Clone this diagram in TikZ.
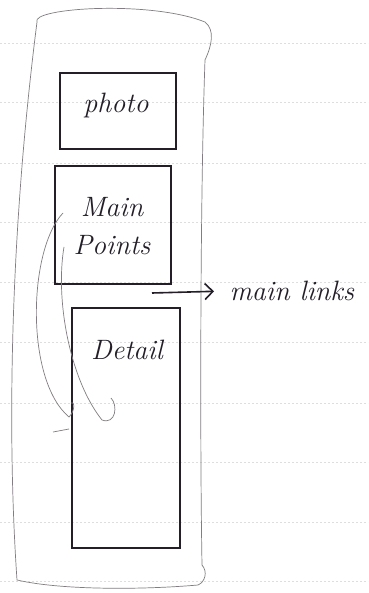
\documentclass[tikz,border=0pt]{standalone}
\usepackage{fontspec}
\usetikzlibrary{arrows.meta}
\definecolor{ink}{RGB}{35,30,40}
\definecolor{pencil}{RGB}{130,125,130}
\definecolor{rule}{RGB}{222,222,222}
\tikzset{
  inkbox/.style={draw=ink, line width=1.6pt, inner sep=0pt},
  hand/.style={font=\fontsize{28}{32}\selectfont\itshape, text=ink},
  pencilline/.style={draw=pencil, line width=0.7pt},
  ruleline/.style={draw=rule, line width=0.5pt, dash pattern=on 2pt off 2pt}
}
\begin{document}
\begin{tikzpicture}[x=1pt,y=-1pt]
\useasboundingbox (0,0) rectangle (368,593);
\fill[white] (0,0) rectangle (368,593);
% paper ruling
\foreach \yy in {43,102,163,222,282,342,403,462,522,581}
  \draw[ruleline] (0,\yy) -- (368,\yy);
% outer sketch outline
\draw[pencilline] (37,22) .. controls (30,8) and (150,0) .. (205,22)
  .. controls (215,30) and (212,45) .. (205,60)
  .. controls (200,200) and (200,450) .. (202,565)
  .. controls (208,572) and (205,582) .. (198,585)
  .. controls (140,590) and (60,590) .. (17,580)
  .. controls (8,450) and (8,250) .. (37,22);
% boxes
\node[inkbox, minimum width=116pt, minimum height=76pt] (photo) at (118,111) {};
\node[hand] (photot) at (116,106) {photo};
\node[inkbox, minimum width=116pt, minimum height=118pt] (main) at (113,225) {};
\node[hand, align=center] (maint) at (112,226) {Main\\[6pt]Points};
\node[inkbox, minimum width=108pt, minimum height=240pt] (detail) at (126,428) {};
\node[hand] (detailt) at (127,350) {Detail};
% arrow to main links
\coordinate (arrstart) at (152,293);
\node[hand, anchor=west] (links) at (226,291) {main links};
\draw[draw=ink, line width=1.6pt, shorten >=12pt, -{Straight Barb[length=8pt,width=16pt]}] (arrstart) -- (links.west);
% pencil curves from main points to detail
\coordinate (c1s) at (63,213);
\coordinate (c1e) at (69,417);
\coordinate (c2s) at (64,247);
\coordinate (c2e) at (102,420);
\draw[pencilline] (c1s) .. controls (28,250) and (25,380) .. (c1e)
  .. controls (76,410) and (74,400) .. (71,403);
\draw[pencilline] (53,432) -- (69,429);
\draw[pencilline] (c2s) .. controls (55,300) and (70,380) .. (c2e)
  .. controls (116,425) and (118,405) .. (111,398);
\end{tikzpicture}
\end{document}
